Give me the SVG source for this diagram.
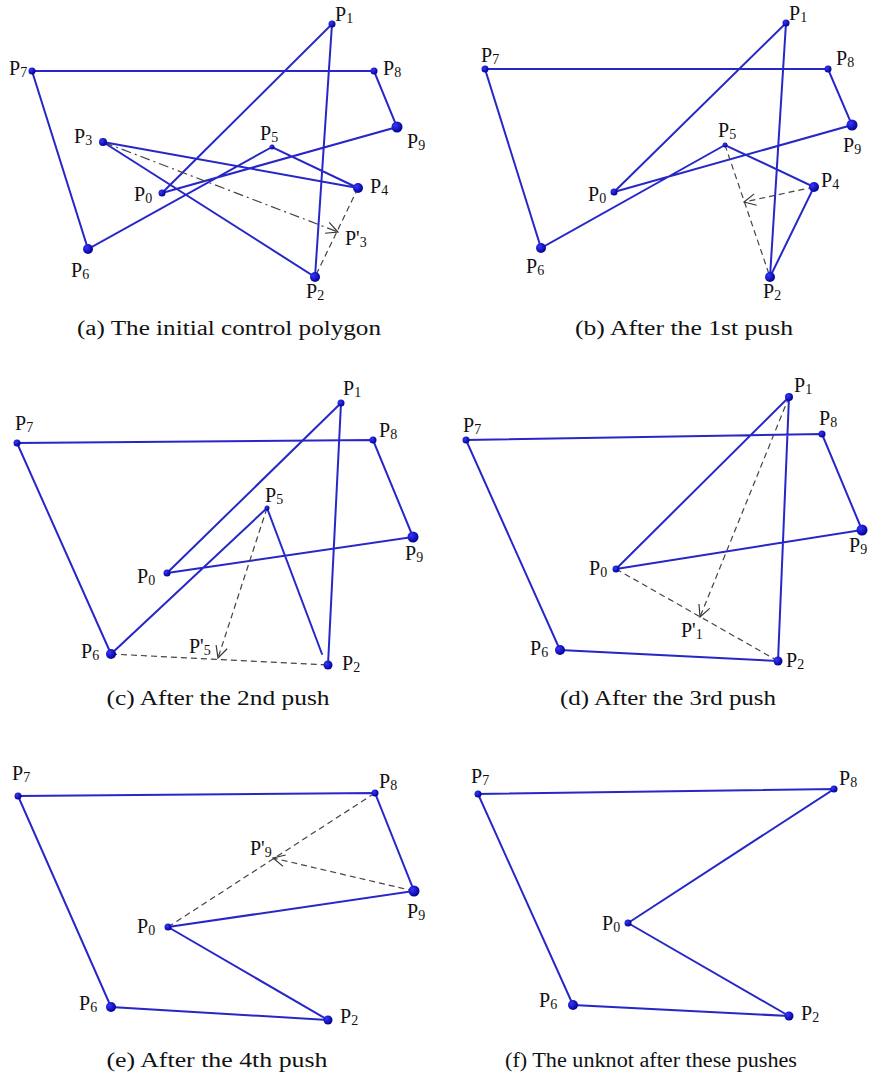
<svg xmlns="http://www.w3.org/2000/svg" width="872" height="1086" viewBox="0 0 872 1086">
<defs>
<marker id="chev" viewBox="0 0 12 12" refX="11" refY="6" markerWidth="14" markerHeight="14" markerUnits="userSpaceOnUse" orient="auto">
<path d="M1,1 L11,6 L1,11" fill="none" stroke="#333" stroke-width="1"/>
</marker>
<radialGradient id="dg" cx="0.35" cy="0.35" r="0.7"><stop offset="0" stop-color="#3535ff"/><stop offset="1" stop-color="#00008c"/></radialGradient>
</defs>
<style>
.e{stroke:#2727c9;stroke-width:2;fill:none;stroke-linecap:round}
.d{stroke:#444;stroke-width:1.2;fill:none;stroke-dasharray:6 4}
.dd{stroke:#444;stroke-width:1.2;fill:none;stroke-dasharray:10 4 2 4}
.a{marker-end:url(#chev)}
.n{fill:url(#dg)}
.l{font-family:"Liberation Serif","DejaVu Serif",serif;font-size:20px;fill:#111}
.s{font-size:14px}
.c{font-family:"Liberation Serif","DejaVu Serif",serif;font-size:20px;fill:#111;text-anchor:middle}
</style>
<rect width="872" height="1086" fill="#fff"/>

<!-- Panel (a) -->
<g id="panel-a">
<g id="a-connectors">
<polyline class="e" points="162,193 332,24 315,277 103,142 358,188 272,147 88,249 32,71 374,71 397,127 162,193"/>
<line class="d" x1="358" y1="188" x2="315" y2="277"/>
<line class="dd a" x1="103" y1="142" x2="338" y2="232"/>
</g>
<g id="a-P0"><circle class="n" cx="162" cy="193" r="3.5"/><text class="l" x="134" y="201">P<tspan class="s" dy="2">0</tspan></text></g>
<g id="a-P1"><circle class="n" cx="332" cy="24" r="3.5"/><text class="l" x="335" y="21">P<tspan class="s" dy="2">1</tspan></text></g>
<g id="a-P2"><circle class="n" cx="315" cy="277" r="5"/><text class="l" x="306" y="298">P<tspan class="s" dy="2">2</tspan></text></g>
<g id="a-P3"><circle class="n" cx="103" cy="142" r="4"/><text class="l" x="74" y="143">P<tspan class="s" dy="2">3</tspan></text></g>
<g id="a-P4"><circle class="n" cx="358" cy="188" r="5"/><text class="l" x="370" y="193">P<tspan class="s" dy="2">4</tspan></text></g>
<g id="a-P5"><circle class="n" cx="272" cy="147" r="2.5"/><text class="l" x="260" y="140">P<tspan class="s" dy="2">5</tspan></text></g>
<g id="a-P6"><circle class="n" cx="88" cy="249" r="5"/><text class="l" x="71" y="277">P<tspan class="s" dy="2">6</tspan></text></g>
<g id="a-P7"><circle class="n" cx="32" cy="71" r="3.5"/><text class="l" x="9" y="75">P<tspan class="s" dy="2">7</tspan></text></g>
<g id="a-P8"><circle class="n" cx="374" cy="71" r="3.5"/><text class="l" x="383" y="75">P<tspan class="s" dy="2">8</tspan></text></g>
<g id="a-P9"><circle class="n" cx="397" cy="127" r="5.5"/><text class="l" x="407" y="148">P<tspan class="s" dy="2">9</tspan></text></g>
<g id="a-P3p"><text class="l" x="345" y="245">P'<tspan class="s" dy="2">3</tspan></text></g>
<text class="c" x="229" y="335" textLength="304" lengthAdjust="spacingAndGlyphs">(a) The initial control polygon</text>
</g>

<!-- Panel (b) -->
<g id="panel-b">
<g id="b-connectors">
<polyline class="e" points="614,192 786,23 770,277 814,187 725,145 541,248 485,69 828,69 852,125 614,192"/>
<line class="d" x1="725" y1="145" x2="770" y2="277"/>
<line class="d a" x1="814" y1="187" x2="744" y2="202"/>
</g>
<g id="b-P0"><circle class="n" cx="614" cy="192" r="3.5"/><text class="l" x="588" y="201">P<tspan class="s" dy="2">0</tspan></text></g>
<g id="b-P1"><circle class="n" cx="786" cy="23" r="3.5"/><text class="l" x="789" y="20">P<tspan class="s" dy="2">1</tspan></text></g>
<g id="b-P2"><circle class="n" cx="770" cy="277" r="5"/><text class="l" x="763" y="298">P<tspan class="s" dy="2">2</tspan></text></g>
<g id="b-P4"><circle class="n" cx="814" cy="187" r="5"/><text class="l" x="821" y="187">P<tspan class="s" dy="2">4</tspan></text></g>
<g id="b-P5"><circle class="n" cx="725" cy="145" r="2.5"/><text class="l" x="718" y="137">P<tspan class="s" dy="2">5</tspan></text></g>
<g id="b-P6"><circle class="n" cx="541" cy="248" r="5"/><text class="l" x="526" y="273">P<tspan class="s" dy="2">6</tspan></text></g>
<g id="b-P7"><circle class="n" cx="485" cy="69" r="3.5"/><text class="l" x="481" y="62">P<tspan class="s" dy="2">7</tspan></text></g>
<g id="b-P8"><circle class="n" cx="828" cy="69" r="3.5"/><text class="l" x="836" y="65">P<tspan class="s" dy="2">8</tspan></text></g>
<g id="b-P9"><circle class="n" cx="852" cy="125" r="5.5"/><text class="l" x="843" y="152">P<tspan class="s" dy="2">9</tspan></text></g>
<text class="c" x="684" y="335" textLength="218" lengthAdjust="spacingAndGlyphs">(b) After the 1st push</text>
</g>

<!-- Panel (c) -->
<g id="panel-c">
<g id="c-connectors">
<polyline class="e" points="167,573 341,403 328,665"/>
<polyline class="e" points="322,654 267,508 111,654 17,443 373,440 413,537 167,573"/>
<line class="d" x1="111" y1="654" x2="328" y2="665"/>
<line class="d a" x1="267" y1="508" x2="218" y2="658"/>
</g>
<g id="c-P0"><circle class="n" cx="167" cy="573" r="3.5"/><text class="l" x="137" y="583">P<tspan class="s" dy="2">0</tspan></text></g>
<g id="c-P1"><circle class="n" cx="341" cy="403" r="3.5"/><text class="l" x="343" y="395">P<tspan class="s" dy="2">1</tspan></text></g>
<g id="c-P2"><circle class="n" cx="328" cy="665" r="4.5"/><text class="l" x="342" y="670">P<tspan class="s" dy="2">2</tspan></text></g>
<g id="c-P5"><circle class="n" cx="267" cy="508" r="2.5"/><text class="l" x="265" y="502">P<tspan class="s" dy="2">5</tspan></text></g>
<g id="c-P6"><circle class="n" cx="111" cy="654" r="5"/><text class="l" x="81" y="658">P<tspan class="s" dy="2">6</tspan></text></g>
<g id="c-P7"><circle class="n" cx="17" cy="443" r="3.5"/><text class="l" x="15" y="430">P<tspan class="s" dy="2">7</tspan></text></g>
<g id="c-P8"><circle class="n" cx="373" cy="440" r="3.5"/><text class="l" x="379" y="437">P<tspan class="s" dy="2">8</tspan></text></g>
<g id="c-P9"><circle class="n" cx="413" cy="537" r="5.5"/><text class="l" x="405" y="560">P<tspan class="s" dy="2">9</tspan></text></g>
<g id="c-P5p"><text class="l" x="189" y="653">P'<tspan class="s" dy="2">5</tspan></text></g>
<text class="c" x="218" y="705" textLength="223" lengthAdjust="spacingAndGlyphs">(c) After the 2nd push</text>
</g>

<!-- Panel (d) -->
<g id="panel-d">
<g id="d-connectors">
<polyline class="e" points="616,569 789,397 778,661 560,650 466,440 822,434 862,530 616,569"/>
<line class="d" x1="616" y1="569" x2="778" y2="661"/>
<line class="d a" x1="789" y1="397" x2="700" y2="617"/>
</g>
<g id="d-P0"><circle class="n" cx="616" cy="569" r="3.5"/><text class="l" x="589" y="575">P<tspan class="s" dy="2">0</tspan></text></g>
<g id="d-P1"><circle class="n" cx="789" cy="397" r="4"/><text class="l" x="794" y="392">P<tspan class="s" dy="2">1</tspan></text></g>
<g id="d-P2"><circle class="n" cx="778" cy="661" r="4.5"/><text class="l" x="786" y="667">P<tspan class="s" dy="2">2</tspan></text></g>
<g id="d-P6"><circle class="n" cx="560" cy="650" r="5"/><text class="l" x="530" y="655">P<tspan class="s" dy="2">6</tspan></text></g>
<g id="d-P7"><circle class="n" cx="466" cy="440" r="3.5"/><text class="l" x="463" y="432">P<tspan class="s" dy="2">7</tspan></text></g>
<g id="d-P8"><circle class="n" cx="822" cy="434" r="3.5"/><text class="l" x="819" y="425">P<tspan class="s" dy="2">8</tspan></text></g>
<g id="d-P9"><circle class="n" cx="862" cy="530" r="5.5"/><text class="l" x="849" y="552">P<tspan class="s" dy="2">9</tspan></text></g>
<g id="d-P1p"><text class="l" x="681" y="637">P'<tspan class="s" dy="2">1</tspan></text></g>
<text class="c" x="668" y="705" textLength="216" lengthAdjust="spacingAndGlyphs">(d) After the 3rd push</text>
</g>

<!-- Panel (e) -->
<g id="panel-e">
<g id="e-connectors">
<polyline class="e" points="168,927 328,1020 111,1007 18,796 375,793 414,891 168,927"/>
<line class="d" x1="168" y1="927" x2="375" y2="793"/>
<line class="d a" x1="414" y1="891" x2="273" y2="858"/>
</g>
<g id="e-P0"><circle class="n" cx="168" cy="927" r="3.5"/><text class="l" x="137" y="933">P<tspan class="s" dy="2">0</tspan></text></g>
<g id="e-P2"><circle class="n" cx="328" cy="1020" r="4.5"/><text class="l" x="340" y="1023">P<tspan class="s" dy="2">2</tspan></text></g>
<g id="e-P6"><circle class="n" cx="111" cy="1007" r="5"/><text class="l" x="79" y="1010">P<tspan class="s" dy="2">6</tspan></text></g>
<g id="e-P7"><circle class="n" cx="18" cy="796" r="3.5"/><text class="l" x="12" y="780">P<tspan class="s" dy="2">7</tspan></text></g>
<g id="e-P8"><circle class="n" cx="375" cy="793" r="3.5"/><text class="l" x="379" y="788">P<tspan class="s" dy="2">8</tspan></text></g>
<g id="e-P9"><circle class="n" cx="414" cy="891" r="5.5"/><text class="l" x="407" y="918">P<tspan class="s" dy="2">9</tspan></text></g>
<g id="e-P9p"><text class="l" x="250" y="855">P'<tspan class="s" dy="2">9</tspan></text></g>
<text class="c" x="217" y="1067" textLength="221" lengthAdjust="spacingAndGlyphs">(e) After the 4th push</text>
</g>

<!-- Panel (f) -->
<g id="panel-f">
<g id="f-connectors">
<polyline class="e" points="628,923 834,789 478,794 573,1005 789,1016 628,923"/>
</g>
<g id="f-P0"><circle class="n" cx="628" cy="923" r="3.5"/><text class="l" x="602" y="930">P<tspan class="s" dy="2">0</tspan></text></g>
<g id="f-P2"><circle class="n" cx="789" cy="1016" r="4.5"/><text class="l" x="801" y="1020">P<tspan class="s" dy="2">2</tspan></text></g>
<g id="f-P6"><circle class="n" cx="573" cy="1005" r="5"/><text class="l" x="539" y="1007">P<tspan class="s" dy="2">6</tspan></text></g>
<g id="f-P7"><circle class="n" cx="478" cy="794" r="3.5"/><text class="l" x="471" y="783">P<tspan class="s" dy="2">7</tspan></text></g>
<g id="f-P8"><circle class="n" cx="834" cy="789" r="3.5"/><text class="l" x="839" y="785">P<tspan class="s" dy="2">8</tspan></text></g>
<text class="c" x="651" y="1067" textLength="292" lengthAdjust="spacingAndGlyphs">(f) The unknot after these pushes</text>
</g>
</svg>
